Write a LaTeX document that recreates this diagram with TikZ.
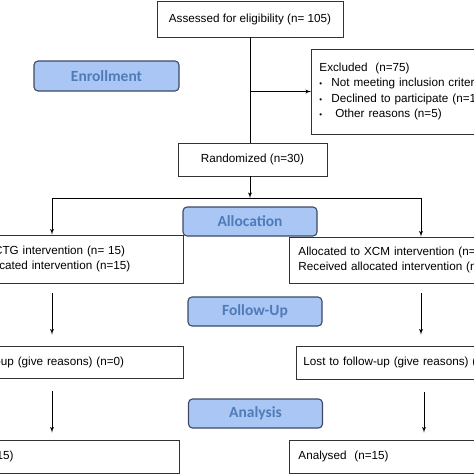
\documentclass[tikz,border=0pt]{standalone}
\usepackage{fontspec}
\setmainfont{Liberation Sans}
\newfontfamily\stagefont{Carlito}
\usetikzlibrary{arrows,positioning}
\definecolor{stagefill}{HTML}{A9C6F5}
\definecolor{stageline}{HTML}{3C4A66}
\definecolor{stagetext}{HTML}{4F7BB8}
\tikzstyle{box}=[draw=black!80, fill=white, line width=0.9pt, inner sep=0pt]
\tikzstyle{sidebox}=[box, anchor=west, align=left, inner xsep=9pt, text width=246pt]
\tikzstyle{stage}=[draw=stageline, fill=stagefill, rounded corners=4pt, line width=1.1pt, text=stagetext, font=\stagefont\bfseries\fontsize{15.5}{18}\selectfont, minimum width=134pt, minimum height=29pt]
\newcommand{\exbullet}{\makebox[12pt][l]{\footnotesize\textbullet}}

\begin{document}
\begin{tikzpicture}[x=1pt,y=-1pt,>=latex',line width=0.9pt,font=\fontsize{11.7}{15.3}\selectfont]
                        \useasboundingbox (0,0) rectangle (474,474);
                        \fill[white] (0,0) rectangle (474,474);
                        \clip (0,0) rectangle (474,474);
                        % enrollment
                        \node [box, minimum width=186pt, minimum height=36pt] (assess) at (250,19) {Assessed for eligibility (n= 105)};
                        \node [stage, minimum width=145pt, minimum height=30pt] (enrol) at (106.5,76) {Enrollment};
                        \node [sidebox, inner xsep=8pt, text width=300pt, minimum height=85pt] (excl) at (311,91.5) {Excluded\ \ (n=75)\\ \exbullet Not meeting inclusion criteria\\ \exbullet Declined to participate (n=1\\ \exbullet\ Other reasons (n=5)};
                        \node [box, minimum width=149pt, minimum height=33pt] (rand) at (252.5,159.5) {Randomized (n=30)};
                        % allocation
                        \node [stage] (alloc) at (250,221.5) {Allocation};
                        \node [sidebox, minimum height=48pt] (allocL) at (-81,259) {Allocated to CTG intervention (n= 15)\\ Received allocated intervention (n=15)};
                        \node [sidebox, minimum height=46pt] (allocR) at (289,260) {Allocated to XCM intervention (n= 15)\\ Received allocated intervention (n=15)};
                        % follow-up
                        \node [stage] (follow) at (255,311.5) {Follow-Up};
                        \node [sidebox, text width=247pt, minimum height=32pt] (lostL) at (-82,362) {Lost to follow-up (give reasons) (n=0)};
                        \node [sidebox, inner xsep=7pt, text width=250pt, minimum height=33pt] (lostR) at (296,362.5) {Lost to follow-up (give reasons) (n=0)};
                        % analysis
                        \node [stage] (analysis) at (255.5,413.5) {Analysis};
                        \node [sidebox, text width=247pt, minimum height=33pt] (anaL) at (-86,456.5) {Analysed\ \ (n=15)};
                        \node [sidebox, text width=247pt, minimum height=33pt] (anaR) at (289,456.5) {Analysed\ \ (n=15)};
                        % connectors
                        \coordinate (split) at (250,198);
                        \coordinate (splitL) at (52,198);
                        \coordinate (splitR) at (421,198);
                        \coordinate (colR) at (424,198);
                        \draw (assess.south -| split) -- (rand.north -| split);
                        \draw[->] (excl.west -| split) -- (excl.west);
                        \draw[->] (rand.south -| split) -- (split);
                        \draw (splitL) -- (splitR);
                        \draw[->] (splitL) -- (splitL |- allocL.north);
                        \draw[->] (splitR) -- (splitR |- allocR.north);
                        \draw[->, shorten <=10pt, shorten >=11pt] (allocL.south -| splitL) -- (lostL.north -| splitL);
                        \draw[->, shorten <=10pt, shorten >=11pt] (allocR.south -| splitR) -- (lostR.north -| splitR);
                        \draw[->, shorten <=13pt, shorten >=7pt] (lostL.south -| splitL) -- (anaL.north -| splitL);
                        \draw[->, shorten <=13pt, shorten >=7pt] (lostR.south -| colR) -- (anaR.north -| colR);
                    \end{tikzpicture}
\end{document}
